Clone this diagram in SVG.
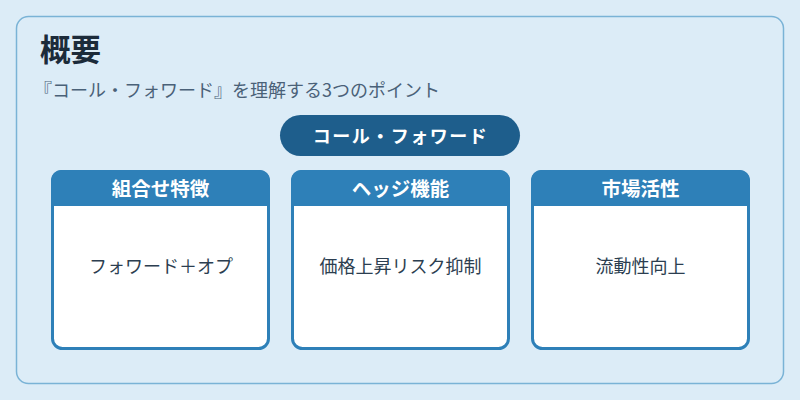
<svg xmlns="http://www.w3.org/2000/svg" width="800" height="400" viewBox="0 0 800 400">
<style>
.t{font-family:"Noto Sans CJK JP","Noto Sans",sans-serif}
.card{fill:#ffffff;stroke:#2e80b8;stroke-width:3}
.hdr{fill:#2e80b8}
.ht{font-size:19.5px;font-weight:bold;fill:#ffffff}
.bt{font-size:18px;fill:#2c3e50}
</style>
<rect x="0" y="0" width="800" height="400" fill="#dcecf7"/>
<rect x="16.5" y="16.5" width="767" height="367" rx="12" fill="#dcecf7" stroke="#7ab3d6" stroke-width="1.5"/>
<text class="t" x="40" y="60.5" font-size="30.5" font-weight="bold" fill="#1c2b3a">概要</text>
<text class="t" x="34" y="97" font-size="18" fill="#4a6178">『コール・フォワード』を理解する3つのポイント</text>
<g id="center">
<rect x="280" y="115" width="240" height="41" rx="20.5" fill="#1e5e8c"/>
<text class="t" x="400.5" y="143" font-size="18" font-weight="bold" fill="#ffffff" text-anchor="middle" letter-spacing="1.5">コール・フォワード</text>
</g>
<g id="connectors"></g>
<g id="card1">
<rect class="card" x="52.5" y="171.5" width="216" height="177" rx="10"/>
<path class="hdr" d="M51 206 V180 A10 10 0 0 1 61 170 H260 A10 10 0 0 1 270 180 V206 Z"/>
<text class="t ht" x="160.5" y="196" text-anchor="middle">組合せ特徴</text>
<text class="t bt" x="161" y="273" text-anchor="middle">フォワード＋オプ</text>
</g>
<g id="card2">
<rect class="card" x="292.5" y="171.5" width="216" height="177" rx="10"/>
<path class="hdr" d="M291 206 V180 A10 10 0 0 1 301 170 H500 A10 10 0 0 1 510 180 V206 Z"/>
<text class="t ht" x="400.5" y="196" text-anchor="middle">ヘッジ機能</text>
<text class="t bt" x="400.5" y="273" text-anchor="middle">価格上昇リスク抑制</text>
</g>
<g id="card3">
<rect class="card" x="532.5" y="171.5" width="216" height="177" rx="10"/>
<path class="hdr" d="M531 206 V180 A10 10 0 0 1 541 170 H740 A10 10 0 0 1 750 180 V206 Z"/>
<text class="t ht" x="640.5" y="196" text-anchor="middle">市場活性</text>
<text class="t bt" x="640.5" y="273" text-anchor="middle">流動性向上</text>
</g>
</svg>
